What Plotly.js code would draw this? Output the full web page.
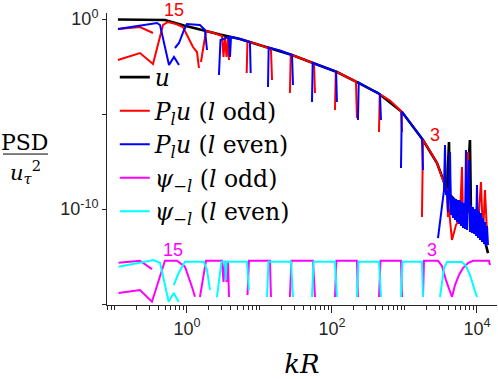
<!DOCTYPE html>
<html>
<head>
<meta charset="utf-8">
<script src="https://cdn.plot.ly/plotly-3.0.1.min.js"></script>
<style>html,body{margin:0;padding:0;background:#fff;}#chart{width:498px;height:379px;}</style>
</head>
<body>
<div id="chart"></div>
<script>
// ---- data ----
const uK = [0.1117,0.2248,0.497,0.910,1.89,2.85,5.38,13.96,28.1,54.7,117,221,431,925,1800,2808,3290,3857,4110,4245,4977,5470,6210,7050,8000,8260,9380,10330,11350,12500,13300,14190];
const uPSD = [0.94,0.94,0.885,0.455,0.22,0.153,0.0886,0.0298,0.01274,0.00483,0.00163,4.8e-4,1.27e-4,1.27e-5,4.3e-7,2.64e-8,4.8e-9,1e-9,3.36e-7,5.46e-10,2.98e-10,1.63e-10,8.9e-11,1.63e-10,4.3e-7,6.9e-11,2.64e-11,1.44e-11,3.36e-11,2.96e-12,1.28e-12,4.8e-13];

const oddK = [0.1117,0.2248,0.340,null,
  0.1117,0.2248,0.340,0.467,0.547,0.705,0.881,1.21,1.374,1.464,null,
  1.56,1.83,2.36,3.04,3.19,3.34,3.51,3.68,3.80,null,
  6.66,6.83,9.53,13.1,14.4,14.9,null,
  26.3,27.0,36.2,53.0,56.5,58.3,null,
  110,113,161,214,221,null,
  445,456,631,895,925,null,
  1742,1800,2249,2808,3290,3857,3981,null,
  3981,4519,5130,5833,6210,6412,7050,7516,7762,9100,10330,11350,12100,12880,13740];
const oddPSD = [0.298,0.379,0.183,null,
  0.00695,0.01625,0.00428,0.483,0.695,0.546,0.379,0.0336,0.0183,0.00264,null,
  0.00546,0.234,0.183,0.127,0.01,0.113,0.01,0.1,0.00695,null,
  0.00144,0.0695,0.046,0.032,0.0264,6.2e-4,null,
  1.27e-4,0.01337,0.00885,0.00507,0.00455,1.27e-4,null,
  1.63e-5,0.00173,8.9e-4,5.1e-4,6.2e-6,null,
  1.13e-6,1.13e-4,5.1e-5,1.44e-5,1.13e-6,null,
  3.8e-11,4.3e-7,1.13e-7,2.64e-8,4.8e-9,1e-9,3.8e-11,null,
  2.98e-10,2.34e-12,1.44e-11,3.36e-11,1.63e-8,4.8e-11,1.63e-10,1e-7,6.9e-11,4.8e-11,1.44e-11,2.64e-9,3.8e-12,1e-9,6.2e-12];

const evenK = [0.1117,0.386,0.425,0.565,0.662,0.776,null,
  0.683,0.776,0.910,1,1.51,1.77,1.89,null,
  2.76,2.90,3.80,3.92,4.05,5.38,7.39,7.56,null,
  13.1,13.4,19.2,28.1,29.0,null,
  53.0,54.2,80.0,114,117,null,
  228,234,314,459,474,null,
  895,918,1268,1742,1800,null,
  2900,3290,3508,3622,3733,3857,3981,4110,4245,4378,4519,4667,4817,4977,5130,5297,5470,5650,5833,6012,6210,6412,6620,6823,7050,7278,7516,7762,8000,8260,8530,8810,9100,9380,9690,10000,10330,10660,11000,11350,11720,12100,12500,12880,13300,13740,14190];
const evenPSD = [0.298,0.616,0.483,0.00379,0.01,0.00379,null,
  0.0298,0.0546,0.264,0.546,0.483,0.264,0.0234,null,
  0.00113,0.0785,0.113,0.01,0.113,0.0886,0.0594,0.00144,null,
  2.64e-4,0.0316,0.022,0.01274,3.36e-4,null,
  4.3e-5,0.00483,0.0028,0.00171,4.3e-5,null,
  4.8e-6,4.55e-4,2.39e-4,1.13e-4,4.8e-6,null,
  1.44e-8,1.35e-5,2.64e-6,5.1e-7,1.13e-8,null,
  2.96e-12,1.63e-10,1e-9,2.34e-7,5.46e-10,1e-9,6.9e-11,5.46e-10,1e-7,4.8e-11,4.83e-10,3.36e-11,3.8e-10,2.64e-11,3.36e-10,2.08e-11,2.98e-10,1.63e-11,2.98e-10,1.27e-11,2.34e-10,1e-11,2.07e-10,8.9e-12,1.27e-7,7.85e-12,1.83e-10,3.8e-8,6.2e-12,1.63e-10,5.46e-12,1.27e-10,4.83e-12,1e-10,3.8e-12,1.83e-9,2.96e-12,7.85e-11,2.34e-12,6.2e-11,1.83e-12,3.36e-11,1.44e-12,2.08e-11,1.13e-12,1.27e-11,1.28e-12];

const psiOddK = [0.114,0.2248,0.329,null,
  0.114,0.2248,0.329,0.497,0.728,0.938,1.17,1.29,null,
  1.51,1.83,3.04,3.19,3.34,3.51,3.68,3.80,null,
  6.83,7.16,13.96,14.4,null,
  26.3,27.6,54.7,58.3,null,
  110,115,221,228,null,
  445,467,895,925,null,
  1800,1858,2900,3290,3733,4245,4519,null,
  4519,4977,5650,6412,7516,8810,14650,15100];
const psiOddVal = [1.48e-13,1.9e-13,6.9e-14,null,
  3.8e-15,5.5e-15,1.32e-15,1.9e-13,1.9e-13,9.2e-14,8.1e-15,2.4e-15,null,
  2.34e-15,1.9e-13,1.9e-13,1.44e-14,1.9e-13,1.44e-14,1.9e-13,2.34e-15,null,
  2.96e-15,1.9e-13,1.9e-13,2.34e-15,null,
  2.34e-15,1.9e-13,1.9e-13,2.34e-15,null,
  2.34e-15,1.9e-13,1.9e-13,2.34e-15,null,
  2.34e-15,1.9e-13,1.9e-13,2.34e-15,null,
  2.34e-15,1.9e-13,1.9e-13,1e-13,1.82e-14,4.3e-15,2.34e-15,null,
  2.34e-15,1e-14,3.4e-14,7.85e-14,1.44e-13,1.9e-13,1.9e-13,1.13e-13];

const psiEvenK = [0.114,0.347,0.425,0.560,0.656,0.768,null,
  0.656,0.768,0.938,1.70,1.89,2.08,null,
  2.59,2.99,3.34,3.43,3.51,6.72,7.16,null,
  12.7,13.3,27.2,29.0,null,
  53.0,55.6,110,117,null,
  221,232,445,474,null,
  895,938,1742,1800,null,
  3090,3290,3508,3857,4977,6210,7050,8000,9100,10000];
const psiEvenVal = [9.2e-14,2.08e-13,1.44e-13,1.32e-15,3.8e-15,1.32e-15,null,
  1e-14,4.3e-14,1.7e-13,1.7e-13,6.2e-14,5.5e-15,null,
  2.34e-15,1.7e-13,1.7e-13,1.82e-14,1.7e-13,1.7e-13,5.5e-15,null,
  2.34e-15,1.7e-13,1.7e-13,2.34e-15,null,
  2.34e-15,1.7e-13,1.7e-13,2.34e-15,null,
  2.34e-15,1.7e-13,1.7e-13,2.34e-15,null,
  2.34e-15,1.7e-13,1.7e-13,2.34e-15,null,
  2.34e-15,1.82e-14,7.85e-14,1.62e-13,1.7e-13,1.62e-13,1e-13,3.4e-14,6.9e-15,2.34e-15];

const xTickVals = [1, 100, 10000];
const xTickText = ['10<sup>0</sup>', '10<sup>2</sup>', '10<sup>4</sup>'];
const xMinorVals = [0.08,0.09,0.1,0.2,0.3,0.4,0.5,0.6,0.7,0.8,0.9,2,3,4,5,6,7,8,9,10,20,30,40,50,60,70,80,90,200,300,400,500,600,700,800,900,1000,2000,3000,4000,5000,6000,7000,8000,9000];
const yTickVals = [1e-15, 1e-10, 1e-5, 1];
const yTickText = ['', '10<sup>-10</sup>', '', '10<sup>0</sup>'];

const legendNames = ['<i>u</i>',
  '<i>P</i><sub><i>l</i></sub><i>u</i> (<i>l</i> odd)',
  '<i>P</i><sub><i>l</i></sub><i>u</i> (<i>l</i> even)',
  '<i>ψ</i><sub>−<i>l</i></sub> (<i>l</i> odd)',
  '<i>ψ</i><sub>−<i>l</i></sub> (<i>l</i> even)'];

// ---- chart ----
const traces = [
  {x: uK, y: uPSD, name: legendNames[0], mode: 'lines', line: {color: '#000000', width: 2.6}},
  {x: oddK, y: oddPSD, name: legendNames[1], mode: 'lines', line: {color: '#ff0000', width: 2}},
  {x: evenK, y: evenPSD, name: legendNames[2], mode: 'lines', line: {color: '#0000ff', width: 2}},
  {x: psiOddK, y: psiOddVal, name: legendNames[3], mode: 'lines', line: {color: '#ff00ff', width: 2}},
  {x: psiEvenK, y: psiEvenVal, name: legendNames[4], mode: 'lines', line: {color: '#00ffff', width: 2}}
];

const axCol = '#262626';
const serif = 'DejaVu Serif';
const layout = {
  width: 498, height: 379,
  margin: {l: 107, r: 1, t: 13, b: 74},
  paper_bgcolor: '#ffffff', plot_bgcolor: '#ffffff',
  showlegend: true,
  legend: {x: 0.02, y: 0.855, xanchor: 'left', yanchor: 'top', bgcolor: 'rgba(0,0,0,0)',
           font: {family: serif, size: 23.5, color: '#000'}},
  xaxis: {type: 'log', range: [-1.103, 4.276], showline: true, linecolor: axCol, linewidth: 1,
          showgrid: false, zeroline: false, ticks: 'outside', ticklen: 7, tickcolor: axCol,
          tickmode: 'array', tickvals: xTickVals, ticktext: xTickText,
          tickfont: {family: 'Liberation Sans', size: 18, color: axCol},
          minor: {tickmode: 'array', tickvals: xMinorVals, ticks: 'outside', ticklen: 4, tickcolor: axCol, showgrid: false},
          title: {text: '<i>kR</i>', font: {family: serif, size: 26, color: '#000'}, standoff: 19}},
  yaxis: {type: 'log', range: [-15.05, 0.316], showline: true, linecolor: axCol, linewidth: 1,
          showgrid: false, zeroline: false, ticks: 'outside', ticklen: 4, tickcolor: axCol,
          tickmode: 'array', tickvals: yTickVals, ticktext: yTickText,
          tickfont: {family: 'Liberation Sans', size: 18, color: axCol}},
  annotations: [
    {xref: 'paper', yref: 'paper', x: 0.1718, y: 1.0103, xanchor: 'center', yanchor: 'middle', text: '15', showarrow: false, font: {family: 'Liberation Sans', size: 18, color: '#ff0000'}},
    {xref: 'x', yref: 'y', x: 3.421, y: -6.105, xanchor: 'center', yanchor: 'middle', text: '3', showarrow: false, font: {family: 'Liberation Sans', size: 18, color: '#ff0000'}},
    {xref: 'x', yref: 'y', x: -0.186, y: -12.13, xanchor: 'center', yanchor: 'middle', text: '15', showarrow: false, font: {family: 'Liberation Sans', size: 18, color: '#ff00ff'}},
    {xref: 'x', yref: 'y', x: 3.379, y: -12.13, xanchor: 'center', yanchor: 'middle', text: '3', showarrow: false, font: {family: 'Liberation Sans', size: 18, color: '#ff00ff'}},
    {xref: 'paper', yref: 'paper', x: -0.2103, y: 0.555, xanchor: 'center', yanchor: 'middle', text: 'PSD', showarrow: false, font: {family: serif, size: 22, color: '#000'}},
    {xref: 'paper', yref: 'paper', x: -0.2077, y: 0.455, xanchor: 'center', yanchor: 'middle', text: '<i>u</i><sub><i>τ</i></sub><sup>2</sup>', showarrow: false, font: {family: serif, size: 21, color: '#000'}}
  ],
  shapes: [
    {type: 'line', xref: 'paper', yref: 'paper', x0: -0.2667, x1: -0.1513, y0: 0.517, y1: 0.517, line: {color: '#000', width: 1}}
  ]
};

Plotly.newPlot('chart', traces, layout, {displayModeBar: false, staticPlot: true});
</script>
</body>
</html>
